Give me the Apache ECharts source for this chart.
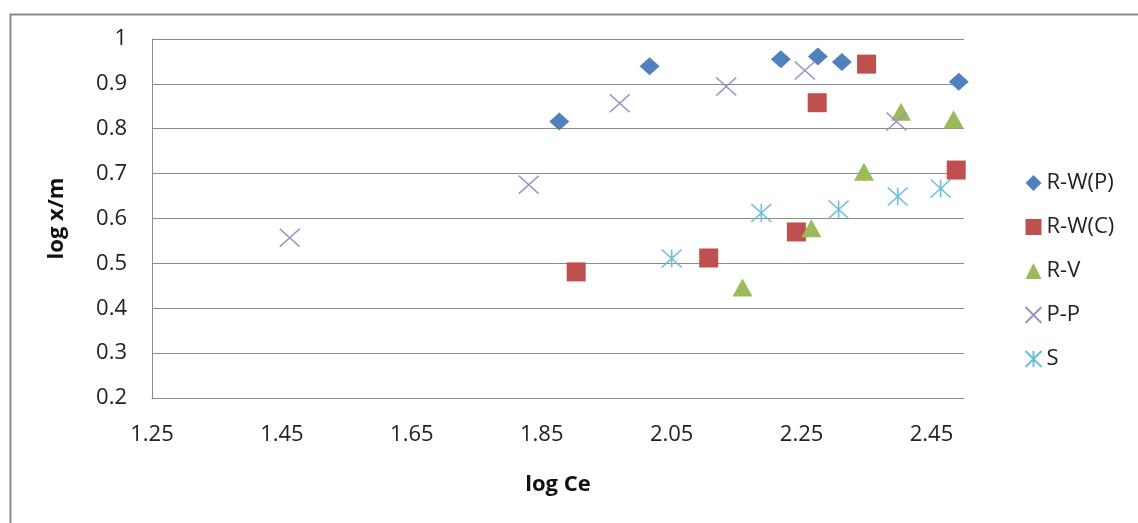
<!DOCTYPE html>
<html>
<head>
<meta charset="utf-8">
<script src="https://cdn.jsdelivr.net/npm/echarts@6/dist/echarts.min.js"></script>
<style>
html,body{margin:0;padding:0;background:#fff;}
#c{width:1138px;height:523px;}
</style>
</head>
<body>
<div id="c"></div>
<script>
var xTickLabels = [1.25, 1.45, 1.65, 1.85, 2.05, 2.25, 2.45];
var seriesNames = ['R-W(P)', 'R-W(C)', 'R-V', 'P-P', 'S'];

var rwpX = [1.877, 2.016, 2.218, 2.275, 2.312, 2.492];
var rwpY = [0.816, 0.939, 0.955, 0.961, 0.949, 0.905];
var rwcX = [1.903, 2.107, 2.242, 2.274, 2.350, 2.488];
var rwcY = [0.481, 0.512, 0.570, 0.858, 0.944, 0.708];
var rvX = [2.159, 2.265, 2.346, 2.403, 2.484];
var rvY = [0.446, 0.578, 0.704, 0.838, 0.821];
var ppX = [1.462, 1.830, 1.970, 2.134, 2.255, 2.396];
var ppY = [0.557, 0.675, 0.857, 0.894, 0.930, 0.816];
var sX = [2.050, 2.188, 2.307, 2.398, 2.464];
var sY = [0.511, 0.612, 0.620, 0.649, 0.667];

function pairs(xs, ys) { return xs.map(function (x, i) { return [x, ys[i]]; }); }

var FONT = '"Open Sans", "Noto Sans", sans-serif';
var chart = echarts.init(document.getElementById('c'), null, {renderer: 'canvas'});
chart.setOption({
  animation: false,
  backgroundColor: '#fff',
  graphic: [{
    type: 'rect', left: 8, top: 12, silent: true,
    shape: {width: 1140, height: 520},
    style: {fill: 'none', stroke: '#8a8a8a', lineWidth: 2}
  }],
  grid: {left: 152, top: 39, width: 812, height: 359, containLabel: false},
  legend: {
    orient: 'vertical', left: 1018, top: 167,
    itemWidth: 16, itemHeight: 16, itemGap: 22,
    textStyle: {fontFamily: FONT, fontSize: 22, color: '#222'},
    data: seriesNames
  },
  xAxis: {
    type: 'value', min: 1.25, max: 2.5, interval: 0.25,
    name: 'log Ce', nameLocation: 'middle', nameGap: 76,
    nameTextStyle: {fontFamily: FONT, fontSize: 22, fontWeight: 'bold', color: '#111'},
    axisLine: {show: true, lineStyle: {color: '#8c8c8c', width: 1}},
    axisTick: {show: false},
    splitLine: {show: false},
    axisLabel: {customValues: xTickLabels, margin: 26, fontFamily: FONT, fontSize: 22, color: '#222',
      formatter: function (v) { return v.toFixed(2); }}
  },
  yAxis: {
    type: 'value', min: 0.2, max: 1, interval: 0.1,
    name: 'log x/m', nameLocation: 'middle', nameGap: 84,
    nameTextStyle: {fontFamily: FONT, fontSize: 22, fontWeight: 'bold', color: '#111'},
    axisLine: {show: true, lineStyle: {color: '#8c8c8c', width: 1}},
    axisTick: {show: false},
    splitLine: {show: true, lineStyle: {color: '#8c8c8c', width: 1}},
    axisLabel: {margin: 25, fontFamily: FONT, fontSize: 22, color: '#222',
      formatter: function (v) { return String(Math.round(v * 10) / 10); }}
  },
  series: [
    {name: seriesNames[0], type: 'scatter', symbol: 'diamond', symbolSize: [20, 18],
     itemStyle: {color: '#4F81BD', opacity: 1}, data: pairs(rwpX, rwpY)},
    {name: seriesNames[1], type: 'scatter', symbol: 'rect', symbolSize: 19,
     itemStyle: {color: '#C0504D', opacity: 1}, data: pairs(rwcX, rwcY)},
    {name: seriesNames[2], type: 'scatter', symbol: 'triangle', symbolSize: [20, 18],
     itemStyle: {color: '#9BBB59', opacity: 1}, data: pairs(rvX, rvY)},
    {name: seriesNames[3], type: 'scatter', symbol: 'path://M0,0L10,10M10,0L0,10', symbolSize: [20, 18],
     itemStyle: {color: 'none', borderColor: '#A08FC2', borderWidth: 1.5, opacity: 1}, data: pairs(ppX, ppY)},
    {name: seriesNames[4], type: 'scatter', symbol: 'path://M0,0L10,10M10,0L0,10M5,0L5,10', symbolSize: [20, 18],
     itemStyle: {color: 'none', borderColor: '#6CBFD6', borderWidth: 1.5, opacity: 1}, data: pairs(sX, sY)}
  ]
});
</script>
</body>
</html>
